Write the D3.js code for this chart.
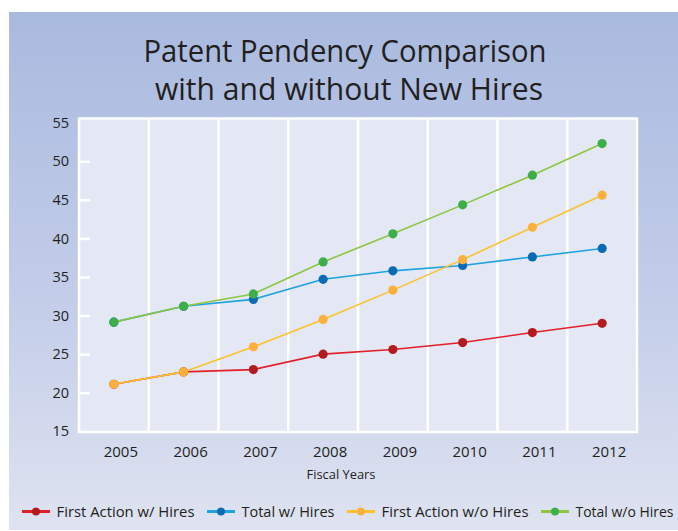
<!DOCTYPE html>
<html>
<head>
<meta charset="utf-8">
<script src="https://cdn.jsdelivr.net/npm/d3@7"></script>
<style>
html,body{margin:0;padding:0;background:#fff;}
svg{display:block;}
text{font-family:"Open Sans","DejaVu Sans",sans-serif;fill:#231f20;}
</style>
</head>
<body>
<svg id="chart" width="678" height="531"></svg>
<script>
const years = ["2005","2006","2007","2008","2009","2010","2011","2012"];
const firstActionWithHires = [21.1, 22.7, 23.0, 25.0, 25.6, 26.5, 27.8, 29.0];
const totalWithHires       = [29.15, 31.2, 32.1, 34.7, 35.8, 36.5, 37.6, 38.7];
const firstActionWoHires   = [21.1, 22.7, 25.95, 29.5, 33.3, 37.25, 41.45, 45.6];
const totalWoHires         = [29.15, 31.2, 32.8, 36.95, 40.6, 44.35, 48.2, 52.3];
const yTicks = [15, 20, 25, 30, 35, 40, 45, 50, 55];
const seriesNames = ["First Action w/ Hires", "Total w/ Hires", "First Action w/o Hires", "Total w/o Hires"];
const titleLines = ["Patent Pendency Comparison", "with and without New Hires"];
const xTitle = "Fiscal Years";

const series = [
  {name: seriesNames[0], values: firstActionWithHires, line: "#e2202a", dot: "#b31b1e", lw: 138},
  {name: seriesNames[1], values: totalWithHires,       line: "#1fa3e0", dot: "#0b6bb5", lw: 93},
  {name: seriesNames[2], values: firstActionWoHires,   line: "#fcc12d", dot: "#fbb03c", lw: 147},
  {name: seriesNames[3], values: totalWoHires,         line: "#8cc63f", dot: "#3dae49", lw: 98}
];

const svg = d3.select("#chart");
const defs = svg.append("defs");
const grad = defs.append("linearGradient").attr("id","bg").attr("x1",0).attr("y1",0).attr("x2",0).attr("y2",1);
grad.append("stop").attr("offset","0%").attr("stop-color","#a9badf");
grad.append("stop").attr("offset","55%").attr("stop-color","#c3cde9");
grad.append("stop").attr("offset","100%").attr("stop-color","#dfe3f1");

svg.append("rect").attr("x",9).attr("y",12).attr("width",669).attr("height",518).attr("fill","url(#bg)");

const L = 79, R = 637, T = 118.5, B = 432;
const x = d3.scaleBand().domain(years).range([L, R]).padding(0);
const y = d3.scaleLinear().domain([15, 55]).range([431.3, 122.7]);

// plot area
svg.append("rect").attr("x",L).attr("y",T).attr("width",R-L).attr("height",B-T)
  .attr("fill","#e4e8f4").attr("stroke","#ffffff").attr("stroke-width",2.5);

// vertical grid lines at band boundaries
svg.append("g").selectAll("line").data(years.slice(1)).join("line")
  .attr("x1", d => x(d)).attr("x2", d => x(d))
  .attr("y1", T).attr("y2", B)
  .attr("stroke","#ffffff").attr("stroke-width",2.5);

// title
svg.append("g").selectAll("text").data(titleLines).join("text")
  .attr("x", (d,i) => i === 0 ? 345 : 349)
  .attr("y", (d,i) => i === 0 ? 61.7 : 100)
  .attr("text-anchor","middle")
  .attr("font-size", 30.5)
  .attr("textLength", (d,i) => i === 0 ? 403 : 388)
  .attr("lengthAdjust","spacingAndGlyphs")
  .text(d => d);

// y axis
const yAxis = d3.axisLeft(y).tickValues(yTicks).tickSize(-11).tickPadding(10);
const gy = svg.append("g").attr("transform",`translate(${L},0)`).call(yAxis);
gy.select(".domain").remove();
gy.selectAll(".tick line").attr("stroke","#ffffff").attr("stroke-width",2.5)
  .attr("display", d => (d === 55 || d === 15) ? "none" : null);
gy.selectAll(".tick text").attr("font-size",14.5).attr("font-family","'Open Sans',sans-serif").attr("fill","#231f20");

// x axis
const xAxis = d3.axisBottom(x).tickSize(0).tickPadding(14);
const gx = svg.append("g").attr("transform",`translate(0,${B})`).call(xAxis);
gx.select(".domain").remove();
gx.selectAll(".tick text").attr("font-size",15).attr("dx",7).attr("font-family","'Open Sans',sans-serif").attr("fill","#231f20");

svg.append("text").attr("x",341).attr("y",479).attr("text-anchor","middle").attr("font-size",12.5)
  .attr("textLength",69).attr("lengthAdjust","spacingAndGlyphs").text(xTitle);

// lines
const line = d3.line().x((d,i) => x(years[i]) + x.bandwidth()/2).y(d => y(d));
const gs = svg.append("g");
series.forEach(s => {
  gs.append("path").datum(s.values).attr("d", line).attr("fill","none")
    .attr("stroke", s.line).attr("stroke-width",1.6);
  gs.append("g").selectAll("circle").data(s.values).join("circle")
    .attr("cx",(d,i) => x(years[i]) + x.bandwidth()/2).attr("cy", d => y(d))
    .attr("r",4.6).attr("fill", s.dot);
});

// legend: measure a common font size so each label fits its width
const lg = svg.append("g");
const probe = lg.append("text").attr("font-size", 15.5);
let fs = 15.5;
series.forEach(s => {
  probe.text(s.name);
  const w = probe.node().getComputedTextLength();
  fs = Math.min(fs, 15.5 * s.lw / w);
});
probe.remove();
let lx = 22;
const ly = 511.5;
series.forEach(s => {
  lg.append("line").attr("x1",lx).attr("x2",lx+28).attr("y1",ly).attr("y2",ly)
    .attr("stroke",s.line).attr("stroke-width",3);
  lg.append("circle").attr("cx",lx+14).attr("cy",ly).attr("r",4).attr("fill",s.dot);
  lg.append("text").attr("x",lx+34.5).attr("y",517).attr("font-size",fs)
    .attr("textLength", s.lw).attr("lengthAdjust","spacingAndGlyphs").text(s.name);
  lx = lx + 34.5 + s.lw + 12.5;
});
</script>
</body>
</html>
